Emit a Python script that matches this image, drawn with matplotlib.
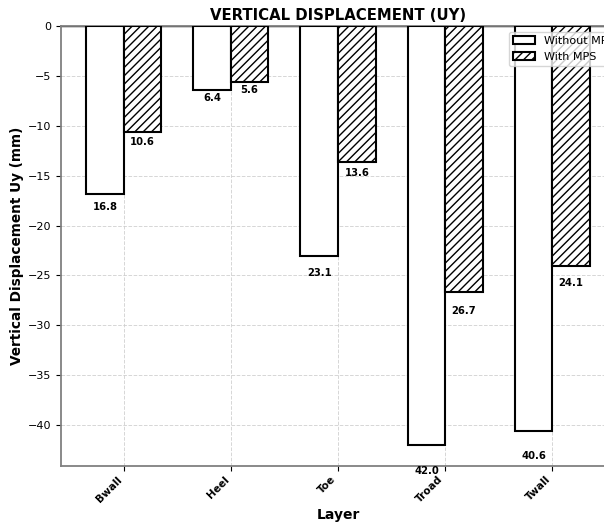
import matplotlib
matplotlib.use("Agg")
import matplotlib.pyplot as plt
import numpy as np

layers = ["Bwall", "Heel", "Toe", "Troad", "Twall"]
without_mps = [-16.8, -6.4, -23.1, -42.0, -40.6]
with_mps = [-10.6, -5.6, -13.6, -26.7, -24.1]

fig = plt.figure(figsize=(6.04, 5.24), dpi=100)
ax = fig.add_axes([61/604, (524-466)/524, (615-61)/604, (466-26)/524])

x = np.arange(len(layers))
w = 0.35
b1 = ax.bar(x - w/2, without_mps, w, color="white", edgecolor="black",
            linewidth=1.5, label="Without MPS", zorder=3)
b2 = ax.bar(x + w/2, with_mps, w, color="white", edgecolor="black",
            linewidth=1.5, hatch="////", label="With MPS", zorder=3)

for bars, vals in ((b1, without_mps), (b2, with_mps)):
    for rect, v in zip(bars, vals):
        ax.text(rect.get_x() + rect.get_width()/2, v * 1.05, f"{abs(v):.1f}",
                ha="center", va="top", fontsize=7.2, fontweight="bold", zorder=4)

ax.axhline(0, color="black", linewidth=1.0, zorder=2)
ax.set_xticks(x)
ax.set_xticklabels(layers, rotation=45, ha="right",
                   fontweight="bold", fontsize=7.5)
ax.tick_params(axis="y", labelsize=8)
ax.tick_params(axis="x", pad=2.5)
ax.set_xlabel("Layer", fontsize=10, fontweight="bold", labelpad=2)
ax.set_ylabel("Vertical Displacement Uy (mm)", fontsize=9.8, fontweight="bold", labelpad=3)
ax.set_title("VERTICAL DISPLACEMENT (UY)", fontsize=10.7, fontweight="bold", pad=4)
ax.grid(True, linestyle="--", color="#cccccc", alpha=0.8, linewidth=0.7, zorder=0)
ax.set_axisbelow(True)
for s in ax.spines.values():
    s.set_color("#808080")
    s.set_linewidth(1.3)
ax.legend(loc="upper right", fontsize=8, handlelength=2.0,
          bbox_to_anchor=(1.018, 1.0), borderaxespad=0.5)

fig.savefig("out.png", dpi=100)
